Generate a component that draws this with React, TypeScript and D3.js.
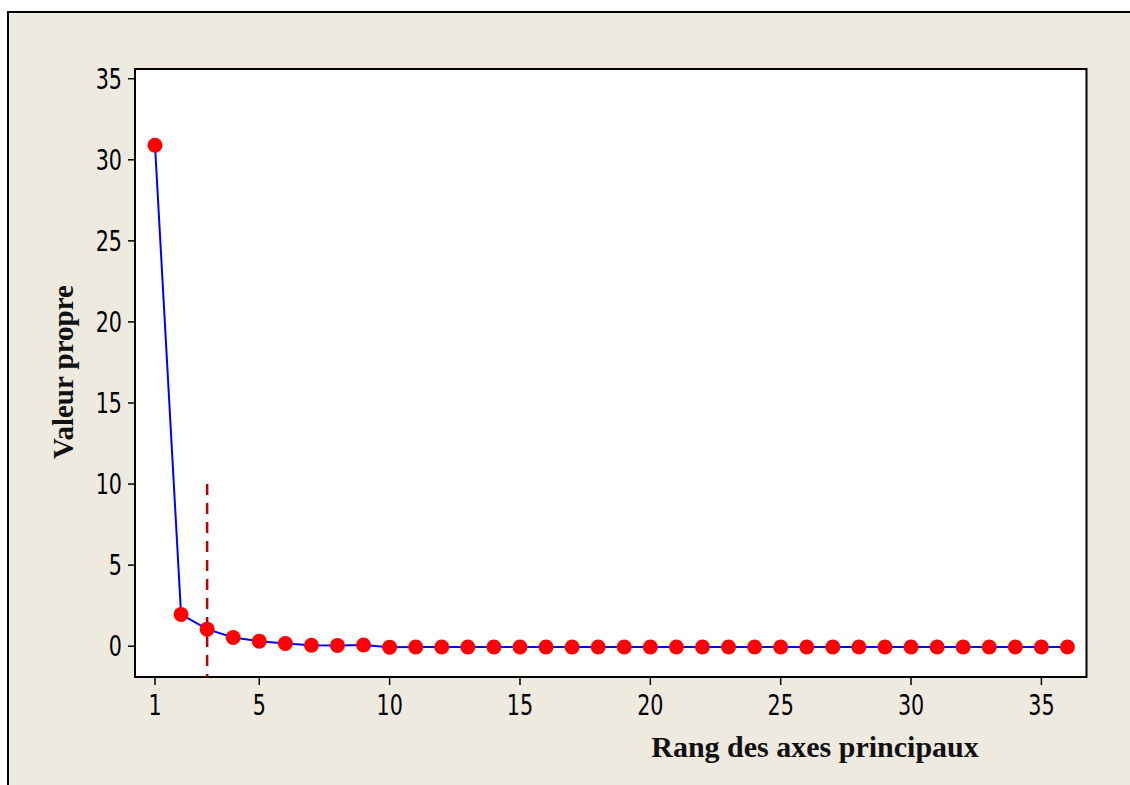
import React from "react";
import * as d3 from "d3";

const ranks: number[] = Array.from({ length: 36 }, (_, i) => i + 1);
const eigenvalues: number[] = [
  30.9, 1.96, 1.05, 0.54, 0.31, 0.17, 0.06, 0.05, 0.07, -0.06,
  -0.05, -0.05, -0.05, -0.05, -0.05, -0.05, -0.05, -0.05, -0.05, -0.05,
  -0.05, -0.05, -0.05, -0.05, -0.05, -0.05, -0.05, -0.05, -0.05, -0.05,
  -0.05, -0.05, -0.05, -0.05, -0.05, -0.05,
];
const xTicks: number[] = [1, 5, 10, 15, 20, 25, 30, 35];
const yTicks: number[] = [0, 5, 10, 15, 20, 25, 30, 35];
const cutoffRank = 3;
const cutoffTop = 10;
const xTitle = "Rang des axes principaux";
const yTitle = "Valeur propre";

export default function App() {
  const W = 1130, H = 785;
  const L = 135, R = 1086.5, T = 69, B = 677;
  const x = d3.scaleLinear().domain([0.233, 36.73]).range([L, R]);
  const y = d3.scaleLinear().domain([-1.9, 35.6]).range([B, T]);
  const line = d3
    .line<number>()
    .x((_, i) => x(ranks[i]))
    .y((d) => y(d));
  const tickFont = "'DejaVu Sans Condensed', 'DejaVu Sans', sans-serif";
  const titleFont = "'Liberation Serif', 'Times New Roman', serif";
  const sy = 1.2;
  return (
    <svg
      width={W}
      height={H}
      style={{ position: "absolute", left: 0, top: 0, display: "block" }}
    >
      <rect x={0} y={0} width={W} height={H} fill="#ffffff" />
      <rect x={8} y={12} width={W + 20} height={H + 20} fill="#eeeae0" stroke="#000" strokeWidth={2} />
      <rect x={L} y={T} width={R - L} height={B - T} fill="#ffffff" stroke="#000" strokeWidth={2} />
      {yTicks.map((t) => (
        <g key={"y" + t}>
          <line x1={L - 7} x2={L} y1={y(t)} y2={y(t)} stroke="#000" strokeWidth={1.5} />
          <text
            transform={`translate(${L - 13}, ${y(t) + 10}) scale(1, ${sy})`}
            textAnchor="end"
            fontFamily={tickFont}
            fontSize={23}
            fill="#000"
          >
            {t}
          </text>
        </g>
      ))}
      {xTicks.map((t) => (
        <g key={"x" + t}>
          <line x1={x(t)} x2={x(t)} y1={B} y2={B + 8} stroke="#000" strokeWidth={1.5} />
          <text
            transform={`translate(${x(t)}, 714.5) scale(1, ${sy})`}
            textAnchor="middle"
            fontFamily={tickFont}
            fontSize={23}
            fill="#000"
          >
            {t}
          </text>
        </g>
      ))}
      <line
        x1={x(cutoffRank)}
        x2={x(cutoffRank)}
        y1={y(cutoffTop)}
        y2={B}
        stroke="#c00000"
        strokeWidth={2.5}
        strokeDasharray="11 8"
      />
      <path d={line(eigenvalues) || ""} fill="none" stroke="#0000ff" strokeWidth={2} />
      {eigenvalues.map((v, i) => (
        <circle key={i} cx={x(ranks[i])} cy={y(v)} r={7.5} fill="#ff0000" />
      ))}
      <text
        x={815}
        y={757}
        textAnchor="middle"
        fontFamily={titleFont}
        fontWeight="bold"
        fontSize={30}
        fill="#111"
      >
        {xTitle}
      </text>
      <text
        transform={`translate(73, 372) rotate(-90)`}
        textAnchor="middle"
        fontFamily={titleFont}
        fontWeight="bold"
        fontSize={29}
        fill="#111"
      >
        {yTitle}
      </text>
    </svg>
  );
}
